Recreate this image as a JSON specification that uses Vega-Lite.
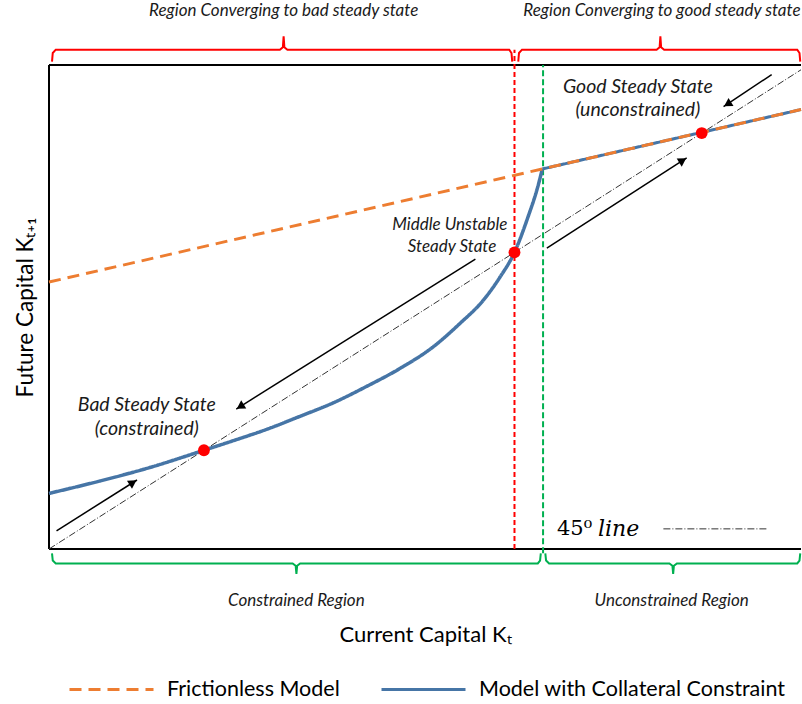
{
  "$schema": "https://vega.github.io/schema/vega-lite/v6.json",
  "width": 752,
  "height": 484,
  "autosize": "none",
  "padding": {"left": 49, "top": 65, "right": 1, "bottom": 155},
  "background": "white",
  "config": {"view": {"stroke": null}, "font": "Lato"},
  "datasets": {
    "frame": [
      {"x": 0, "y": 0, "x2": 100, "y2": 0},
      {"x": 0, "y": 101, "x2": 100, "y2": 101},
      {"x": 0, "y": 0, "x2": 0, "y2": 101}
    ],
    "diag": [
      {"x": 0, "y": 0, "x2": 100, "y2": 100},
      {"x": 81.7, "y": 4.2, "x2": 95.6, "y2": 4.2}
    ],
    "vlines": [
      {"kind": "red", "x": 61.9, "y": 0, "y2": 104.2},
      {"kind": "green", "x": 65.7, "y": -0.9, "y2": 101}
    ],
    "curves": [
      {"series": "Model with Collateral Constraint", "p": "c", "x": 0, "y": 11.6},
      {"series": "Model with Collateral Constraint", "p": "c", "x": 6.8, "y": 14.2},
      {"series": "Model with Collateral Constraint", "p": "c", "x": 13.4, "y": 17.0},
      {"series": "Model with Collateral Constraint", "p": "c", "x": 20.6, "y": 20.6},
      {"series": "Model with Collateral Constraint", "p": "c", "x": 24.5, "y": 22.6},
      {"series": "Model with Collateral Constraint", "p": "c", "x": 29, "y": 25.0},
      {"series": "Model with Collateral Constraint", "p": "c", "x": 33.4, "y": 27.7},
      {"series": "Model with Collateral Constraint", "p": "c", "x": 37.8, "y": 30.5},
      {"series": "Model with Collateral Constraint", "p": "c", "x": 42.2, "y": 33.9},
      {"series": "Model with Collateral Constraint", "p": "c", "x": 46.7, "y": 37.7},
      {"series": "Model with Collateral Constraint", "p": "c", "x": 51.1, "y": 42.2},
      {"series": "Model with Collateral Constraint", "p": "c", "x": 54.6, "y": 47.0},
      {"series": "Model with Collateral Constraint", "p": "c", "x": 57.8, "y": 52.0},
      {"series": "Model with Collateral Constraint", "p": "c", "x": 60, "y": 56.8},
      {"series": "Model with Collateral Constraint", "p": "c", "x": 61.9, "y": 61.9},
      {"series": "Model with Collateral Constraint", "p": "c", "x": 63.7, "y": 69.3},
      {"series": "Model with Collateral Constraint", "p": "c", "x": 65, "y": 75.6},
      {"series": "Model with Collateral Constraint", "p": "c", "x": 65.6, "y": 79.3},
      {"series": "Model with Collateral Constraint", "p": "l", "x": 65.6, "y": 79.3},
      {"series": "Model with Collateral Constraint", "p": "l", "x": 100, "y": 91.7},
      {"series": "Frictionless Model", "p": "l", "x": 0, "y": 55.7},
      {"series": "Frictionless Model", "p": "l", "x": 100, "y": 91.7}
    ],
    "arrows": [
      {"dir": "ur", "x": 11.7, "y": 14.4, "x2": 1.0, "y2": 3.8},
      {"dir": "dl", "x": 24.9, "y": 29.2, "x2": 56.7, "y2": 60.5},
      {"dir": "ur", "x": 84.8, "y": 81.6, "x2": 66.2, "y2": 62.8},
      {"dir": "dl", "x": 89.7, "y": 92.3, "x2": 96.1, "y2": 99.0}
    ],
    "dots": [
      {"x": 20.6, "y": 20.6},
      {"x": 61.9, "y": 61.9},
      {"x": 86.8, "y": 86.8}
    ],
    "brackets": [
      {"b": "r1", "i": 0, "x": 0.4, "y": 101.7},
      {"b": "r1", "i": 1, "x": 0.5, "y": 103.5},
      {"b": "r1", "i": 2, "x": 0.9, "y": 104.2},
      {"b": "r1", "i": 3, "x": 30.7, "y": 104.2},
      {"b": "r1", "i": 4, "x": 31.1, "y": 104.7},
      {"b": "r1", "i": 5, "x": 31.2, "y": 107.0},
      {"b": "r1", "i": 6, "x": 31.3, "y": 104.7},
      {"b": "r1", "i": 7, "x": 31.7, "y": 104.2},
      {"b": "r1", "i": 8, "x": 61.2, "y": 104.2},
      {"b": "r1", "i": 9, "x": 61.5, "y": 103.5},
      {"b": "r1", "i": 10, "x": 61.6, "y": 101.7},
      {"b": "r2", "i": 0, "x": 62.4, "y": 101.7},
      {"b": "r2", "i": 1, "x": 62.5, "y": 103.5},
      {"b": "r2", "i": 2, "x": 62.9, "y": 104.2},
      {"b": "r2", "i": 3, "x": 80.8, "y": 104.2},
      {"b": "r2", "i": 4, "x": 81.2, "y": 104.7},
      {"b": "r2", "i": 5, "x": 81.3, "y": 107.0},
      {"b": "r2", "i": 6, "x": 81.4, "y": 104.7},
      {"b": "r2", "i": 7, "x": 81.8, "y": 104.2},
      {"b": "r2", "i": 8, "x": 99.5, "y": 104.2},
      {"b": "r2", "i": 9, "x": 99.8, "y": 103.5},
      {"b": "r2", "i": 10, "x": 99.9, "y": 101.7},
      {"b": "g1", "i": 0, "x": 0.4, "y": -0.9},
      {"b": "g1", "i": 1, "x": 0.5, "y": -2.4},
      {"b": "g1", "i": 2, "x": 0.9, "y": -3.0},
      {"b": "g1", "i": 3, "x": 32.4, "y": -3.0},
      {"b": "g1", "i": 4, "x": 32.8, "y": -3.5},
      {"b": "g1", "i": 5, "x": 32.9, "y": -5.2},
      {"b": "g1", "i": 6, "x": 33.0, "y": -3.5},
      {"b": "g1", "i": 7, "x": 33.4, "y": -3.0},
      {"b": "g1", "i": 8, "x": 65.0, "y": -3.0},
      {"b": "g1", "i": 9, "x": 65.3, "y": -2.4},
      {"b": "g1", "i": 10, "x": 65.4, "y": -0.9},
      {"b": "g2", "i": 0, "x": 66.0, "y": -0.9},
      {"b": "g2", "i": 1, "x": 66.1, "y": -2.4},
      {"b": "g2", "i": 2, "x": 66.5, "y": -3.0},
      {"b": "g2", "i": 3, "x": 82.5, "y": -3.0},
      {"b": "g2", "i": 4, "x": 82.9, "y": -3.5},
      {"b": "g2", "i": 5, "x": 83.0, "y": -5.2},
      {"b": "g2", "i": 6, "x": 83.1, "y": -3.5},
      {"b": "g2", "i": 7, "x": 83.5, "y": -3.0},
      {"b": "g2", "i": 8, "x": 99.5, "y": -3.0},
      {"b": "g2", "i": 9, "x": 99.8, "y": -2.4},
      {"b": "g2", "i": 10, "x": 99.9, "y": -0.9}
    ],
    "labels": [
      {"g": "top", "x": 31.2, "y": 112.2, "text": "Region Converging to  bad steady state"},
      {"g": "top", "x": 81.5, "y": 112.2, "text": "Region Converging to  good steady state"},
      {"g": "bot", "x": 32.9, "y": -10.9, "text": "Constrained Region"},
      {"g": "bot", "x": 82.8, "y": -10.9, "text": "Unconstrained Region"},
      {"g": "ss", "x": 13.0, "y": 30.1, "text": "Bad Steady State"},
      {"g": "ss", "x": 13.0, "y": 25.0, "text": "(constrained)"},
      {"g": "ss", "x": 78.3, "y": 96.5, "text": "Good Steady State"},
      {"g": "ss", "x": 78.3, "y": 91.6, "text": "(unconstrained)"},
      {"g": "mid", "x": 53.3, "y": 67.6, "text": "Middle Unstable"},
      {"g": "mid", "x": 53.6, "y": 63.1, "text": "Steady State"},
      {"g": "n45", "x": 67.55, "y": 4.2, "text": "45⁰"},
      {"g": "line", "x": 73.0, "y": 4.2, "text": "line"}
    ]
  },
  "encoding": {
    "x": {
      "field": "x", "type": "quantitative",
      "scale": {"domain": [0, 100], "nice": false, "zero": false},
      "axis": {"title": "Current Capital Kₜ", "domain": false, "ticks": false, "labels": false, "grid": false,
        "titleFont": "Lato", "titleFontSize": 22, "titleFontWeight": "normal", "titleColor": "black", "titlePadding": 75}
    },
    "y": {
      "field": "y", "type": "quantitative",
      "scale": {"domain": [0, 101], "nice": false, "zero": false},
      "axis": {"title": "Future Capital Kₜ₊₁", "domain": false, "ticks": false, "labels": false, "grid": false,
        "titleFont": "Lato", "titleFontSize": 22.5, "titleFontWeight": "normal", "titleColor": "black", "titlePadding": 12}
    }
  },
  "layer": [
    {
      "data": {"name": "frame"},
      "mark": {"type": "rule", "color": "black", "strokeWidth": 2},
      "encoding": {"x2": {"field": "x2"}, "y2": {"field": "y2"}}
    },
    {
      "data": {"name": "diag"},
      "mark": {"type": "rule", "color": "#333333", "strokeWidth": 1, "strokeDash": [7, 2, 1, 2]},
      "encoding": {"x2": {"field": "x2"}, "y2": {"field": "y2"}}
    },
    {
      "data": {"name": "vlines"},
      "transform": [{"filter": "datum.kind == 'red'"}],
      "mark": {"type": "rule", "color": "#FF0000", "strokeWidth": 2, "strokeDash": [5, 3]},
      "encoding": {"y2": {"field": "y2"}}
    },
    {
      "data": {"name": "vlines"},
      "transform": [{"filter": "datum.kind == 'green'"}],
      "mark": {"type": "rule", "color": "#00B050", "strokeWidth": 2, "strokeDash": [6, 3]},
      "encoding": {"y2": {"field": "y2"}}
    },
    {
      "data": {"name": "curves"},
      "transform": [{"filter": "datum.series == 'Model with Collateral Constraint' && datum.p == 'c'"}],
      "mark": {"type": "line", "strokeWidth": 3.5, "interpolate": "monotone"},
      "encoding": {
        "color": {"field": "series", "type": "nominal",
          "scale": {"domain": ["Frictionless Model", "Model with Collateral Constraint"], "range": ["#ED7D31", "#4675A6"]},
          "legend": {"orient": "none", "legendX": 19, "legendY": 581, "direction": "horizontal", "title": null,
            "symbolType": "stroke", "symbolSize": 7056, "symbolStrokeWidth": 3, "labelFont": "Lato", "labelFontSize": 21.5,
            "labelColor": "black", "labelOffset": 12, "columnPadding": 35, "padding": 0, "labelLimit": 400}},
        "strokeDash": {"field": "series", "type": "nominal",
          "scale": {"domain": ["Frictionless Model", "Model with Collateral Constraint"], "range": [[12, 7], [1, 0]]},
          "legend": {"orient": "none", "legendX": 19, "legendY": 581, "direction": "horizontal", "title": null,
            "symbolType": "stroke", "symbolSize": 7056, "symbolStrokeWidth": 3, "labelFont": "Lato", "labelFontSize": 21.5,
            "labelColor": "black", "labelOffset": 12, "columnPadding": 35, "padding": 0, "labelLimit": 400}}
      }
    },
    {
      "data": {"name": "curves"},
      "transform": [{"filter": "datum.p == 'l'"}],
      "mark": {"type": "line", "strokeWidth": 3, "interpolate": "linear"},
      "encoding": {
        "color": {"field": "series", "type": "nominal"},
        "strokeDash": {"field": "series", "type": "nominal"},
        "order": {"field": "series", "sort": "descending"}
      }
    },
    {
      "data": {"name": "arrows"},
      "mark": {"type": "rule", "color": "black", "strokeWidth": 1.5},
      "encoding": {"x2": {"field": "x2"}, "y2": {"field": "y2"}}
    },
    {
      "data": {"name": "arrows"},
      "transform": [{"filter": "datum.dir == 'ur'"}],
      "mark": {"type": "point", "shape": "triangle-right", "angle": -32, "filled": true, "color": "black", "opacity": 1, "size": 90, "xOffset": -4, "yOffset": 2.5}
    },
    {
      "data": {"name": "arrows"},
      "transform": [{"filter": "datum.dir == 'dl'"}],
      "mark": {"type": "point", "shape": "triangle-left", "angle": -32, "filled": true, "color": "black", "opacity": 1, "size": 90, "xOffset": 4, "yOffset": -2.5}
    },
    {
      "data": {"name": "dots"},
      "mark": {"type": "point", "shape": "circle", "filled": true, "color": "#FF0000", "opacity": 1, "size": 140}
    },
    {
      "data": {"name": "brackets"},
      "transform": [{"filter": "datum.b == 'r1' || datum.b == 'r2'"}],
      "mark": {"type": "line", "color": "#FF0000", "strokeWidth": 2},
      "encoding": {"detail": {"field": "b"}, "order": {"field": "i", "type": "quantitative"}}
    },
    {
      "data": {"name": "brackets"},
      "transform": [{"filter": "datum.b == 'g1' || datum.b == 'g2'"}],
      "mark": {"type": "line", "color": "#00B050", "strokeWidth": 2},
      "encoding": {"detail": {"field": "b"}, "order": {"field": "i", "type": "quantitative"}}
    },
    {
      "data": {"name": "labels"},
      "transform": [{"filter": "datum.g == 'top' || datum.g == 'bot'"}],
      "mark": {"type": "text", "font": "Lato", "fontStyle": "italic", "fontSize": 17, "color": "#1a1a1a", "align": "center", "baseline": "middle"},
      "encoding": {"text": {"field": "text"}}
    },
    {
      "data": {"name": "labels"},
      "transform": [{"filter": "datum.g == 'ss'"}],
      "mark": {"type": "text", "font": "Lato", "fontStyle": "italic", "fontSize": 19.5, "color": "#1a1a1a", "align": "center", "baseline": "middle"},
      "encoding": {"text": {"field": "text"}}
    },
    {
      "data": {"name": "labels"},
      "transform": [{"filter": "datum.g == 'mid'"}],
      "mark": {"type": "text", "font": "Lato", "fontStyle": "italic", "fontSize": 17, "color": "#1a1a1a", "align": "center", "baseline": "middle"},
      "encoding": {"text": {"field": "text"}}
    },
    {
      "data": {"name": "labels"},
      "transform": [{"filter": "datum.g == 'n45'"}],
      "mark": {"type": "text", "font": "DejaVu Serif", "fontSize": 21, "color": "black", "align": "left", "baseline": "middle"},
      "encoding": {"text": {"field": "text"}}
    },
    {
      "data": {"name": "labels"},
      "transform": [{"filter": "datum.g == 'line'"}],
      "mark": {"type": "text", "font": "DejaVu Serif", "fontStyle": "italic", "fontSize": 22, "color": "black", "align": "left", "baseline": "middle"},
      "encoding": {"text": {"field": "text"}}
    }
  ]
}
